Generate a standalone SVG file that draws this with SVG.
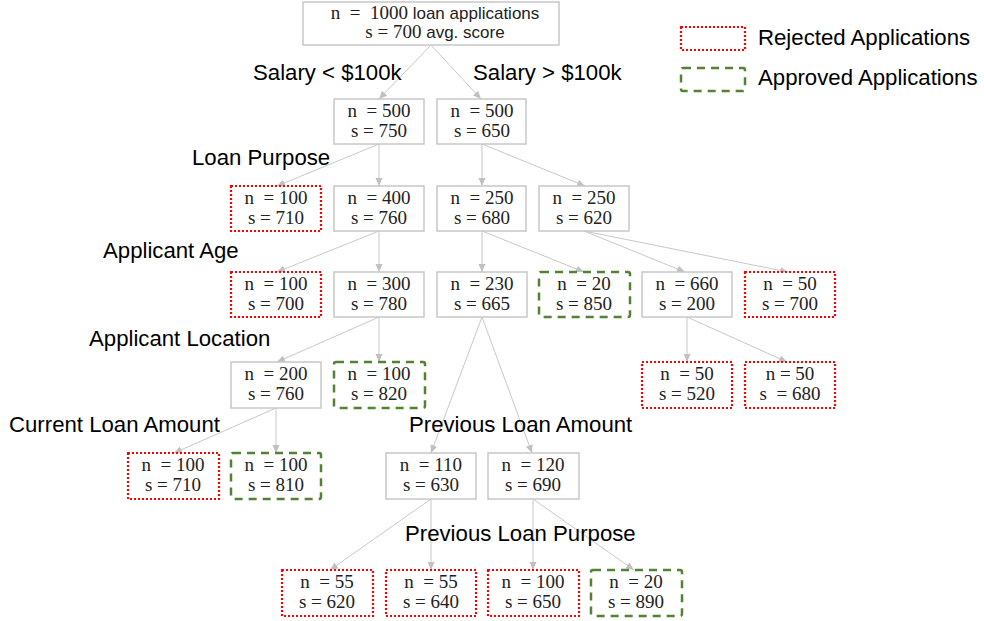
<svg xmlns="http://www.w3.org/2000/svg" width="984" height="621" viewBox="0 0 984 621">
<style>
.box{fill:#fff;stroke:#c8c8c8;stroke-width:1.5}
.rej{fill:#fff;stroke:#ff0000;stroke-width:2.2;stroke-dasharray:2 2}
.app{fill:#fff;stroke:#548235;stroke-width:2.5;stroke-dasharray:8 6}
.t{font-family:"Liberation Serif","DejaVu Serif",serif;font-size:19px;fill:#222;text-anchor:middle;white-space:pre}
.s{font-family:"Liberation Sans",Arial,sans-serif}
.lbl{font-family:"Liberation Sans",Arial,sans-serif;font-size:22.2px;fill:#000}
.e{stroke:#c8c8c8;stroke-width:1;fill:none;marker-end:url(#arr)}
</style>
<defs>
<marker id="arr" markerUnits="userSpaceOnUse" markerWidth="9" markerHeight="8" refX="8" refY="3.5" orient="auto">
<path d="M0,0 L8,3.5 L0,7 z" fill="#c0c0c0"/>
</marker>
</defs>
<rect width="984" height="621" fill="#fff"/>
<g id="connectors">
<line class="e" x1="431" y1="45" x2="379" y2="99"/>
<line class="e" x1="431" y1="45" x2="481" y2="99"/>
<line class="e" x1="379" y1="144" x2="277" y2="186"/>
<line class="e" x1="379" y1="144" x2="379" y2="186"/>
<line class="e" x1="482" y1="144" x2="482" y2="186"/>
<line class="e" x1="482" y1="144" x2="585" y2="186"/>
<line class="e" x1="379" y1="231" x2="277" y2="272"/>
<line class="e" x1="379" y1="231" x2="379" y2="272"/>
<line class="e" x1="482" y1="231" x2="482" y2="272"/>
<line class="e" x1="482" y1="231" x2="584" y2="272"/>
<line class="e" x1="584" y1="231" x2="685" y2="272"/>
<line class="e" x1="584" y1="231" x2="788" y2="272"/>
<line class="e" x1="379" y1="317" x2="277" y2="362"/>
<line class="e" x1="379" y1="317" x2="379" y2="362"/>
<line class="e" x1="482" y1="317" x2="431" y2="453"/>
<line class="e" x1="482" y1="317" x2="532" y2="453"/>
<line class="e" x1="687" y1="317" x2="687" y2="362"/>
<line class="e" x1="687" y1="317" x2="787" y2="362"/>
<line class="e" x1="276" y1="408" x2="174" y2="453"/>
<line class="e" x1="276" y1="408" x2="276" y2="453"/>
<line class="e" x1="431" y1="499" x2="330" y2="570"/>
<line class="e" x1="431" y1="499" x2="431" y2="570"/>
<line class="e" x1="533" y1="499" x2="533" y2="570"/>
<line class="e" x1="533" y1="499" x2="634" y2="570"/>
</g>
<g id="root">
<rect class="box" x="303" y="2" width="256" height="43"/>
<text class="t" x="435" y="19">n  =  1000 <tspan class="s" font-size="17">loan applications</tspan></text>
<text class="t" x="435" y="38">s = 700 <tspan class="s" font-size="17">avg. score</tspan></text>
</g>
<g id="n500a"><rect class="box" x="334" y="99" width="90" height="45"/><text class="t" x="379" y="117">n  = 500</text><text class="t" x="379" y="137">s = 750</text></g>
<g id="n500b"><rect class="box" x="437" y="99" width="89" height="45"/><text class="t" x="482" y="117">n  = 500</text><text class="t" x="482" y="137">s = 650</text></g>
<g id="n100a"><rect class="rej" x="231" y="186" width="90" height="45"/><text class="t" x="276" y="204">n  = 100</text><text class="t" x="276" y="224">s = 710</text></g>
<g id="n400"><rect class="box" x="334" y="186" width="90" height="45"/><text class="t" x="379" y="204">n  = 400</text><text class="t" x="379" y="224">s = 760</text></g>
<g id="n250a"><rect class="box" x="437" y="186" width="89" height="45"/><text class="t" x="482" y="204">n  = 250</text><text class="t" x="482" y="224">s = 680</text></g>
<g id="n250b"><rect class="box" x="539" y="186" width="90" height="45"/><text class="t" x="584" y="204">n  = 250</text><text class="t" x="584" y="224">s = 620</text></g>
<g id="n100b"><rect class="rej" x="231" y="272" width="90" height="45"/><text class="t" x="276" y="290">n  = 100</text><text class="t" x="276" y="310">s = 700</text></g>
<g id="n300"><rect class="box" x="334" y="272" width="90" height="45"/><text class="t" x="379" y="290">n  = 300</text><text class="t" x="379" y="310">s = 780</text></g>
<g id="n230"><rect class="box" x="437" y="272" width="90" height="45"/><text class="t" x="482" y="290">n  = 230</text><text class="t" x="482" y="310">s = 665</text></g>
<g id="n20a"><rect class="app" x="539" y="272" width="91" height="45" rx="2"/><text class="t" x="584" y="290">n  = 20</text><text class="t" x="584" y="310">s = 850</text></g>
<g id="n660"><rect class="box" x="642" y="272" width="90" height="45"/><text class="t" x="687" y="290">n  = 660</text><text class="t" x="687" y="310">s = 200</text></g>
<g id="n50a"><rect class="rej" x="745" y="272" width="90" height="45"/><text class="t" x="790" y="290">n  = 50</text><text class="t" x="790" y="310">s = 700</text></g>
<g id="n200"><rect class="box" x="231" y="362" width="90" height="46"/><text class="t" x="276" y="380">n  = 200</text><text class="t" x="276" y="400">s = 760</text></g>
<g id="n100c"><rect class="app" x="334" y="362" width="91" height="46" rx="2"/><text class="t" x="379" y="380">n  = 100</text><text class="t" x="379" y="400">s = 820</text></g>
<g id="n50b"><rect class="rej" x="642" y="362" width="90" height="46"/><text class="t" x="687" y="380">n  = 50</text><text class="t" x="687" y="400">s = 520</text></g>
<g id="n50c"><rect class="rej" x="745" y="362" width="90" height="46"/><text class="t" x="790" y="380">n = 50</text><text class="t" x="790" y="400">s  = 680</text></g>
<g id="n100d"><rect class="rej" x="128" y="453" width="91" height="46"/><text class="t" x="173" y="471">n  = 100</text><text class="t" x="173" y="491">s = 710</text></g>
<g id="n100e"><rect class="app" x="231" y="453" width="90" height="46" rx="2"/><text class="t" x="276" y="471">n  = 100</text><text class="t" x="276" y="491">s = 810</text></g>
<g id="n110"><rect class="box" x="386" y="453" width="90" height="46"/><text class="t" x="431" y="471">n  = 110</text><text class="t" x="431" y="491">s = 630</text></g>
<g id="n120"><rect class="box" x="488" y="453" width="91" height="46"/><text class="t" x="533" y="471">n  = 120</text><text class="t" x="533" y="491">s = 690</text></g>
<g id="n55a"><rect class="rej" x="282" y="570" width="91" height="46"/><text class="t" x="327" y="588">n  = 55</text><text class="t" x="327" y="608">s = 620</text></g>
<g id="n55b"><rect class="rej" x="386" y="570" width="90" height="46"/><text class="t" x="431" y="588">n  = 55</text><text class="t" x="431" y="608">s = 640</text></g>
<g id="n100f"><rect class="rej" x="488" y="570" width="91" height="46"/><text class="t" x="533" y="588">n  = 100</text><text class="t" x="533" y="608">s = 650</text></g>
<g id="n20b"><rect class="app" x="591" y="570" width="91" height="46" rx="2"/><text class="t" x="636" y="588">n  = 20</text><text class="t" x="636" y="608">s = 890</text></g>
<g id="labels">
<text class="lbl" x="253" y="80">Salary &lt; $100k</text>
<text class="lbl" x="473" y="80">Salary &gt; $100k</text>
<text class="lbl" x="192" y="165">Loan Purpose</text>
<text class="lbl" x="103" y="258">Applicant Age</text>
<text class="lbl" x="89" y="346">Applicant Location</text>
<text class="lbl" x="9" y="432">Current Loan Amount</text>
<text class="lbl" x="409" y="432">Previous Loan Amount</text>
<text class="lbl" x="405" y="541">Previous Loan Purpose</text>
</g>
<g id="legend">
<rect class="rej" x="681" y="27" width="64" height="23"/>
<text class="lbl" x="758" y="45">Rejected Applications</text>
<rect class="app" x="681" y="68" width="64" height="23" rx="2"/>
<text class="lbl" x="758" y="85">Approved Applications</text>
</g>
</svg>
